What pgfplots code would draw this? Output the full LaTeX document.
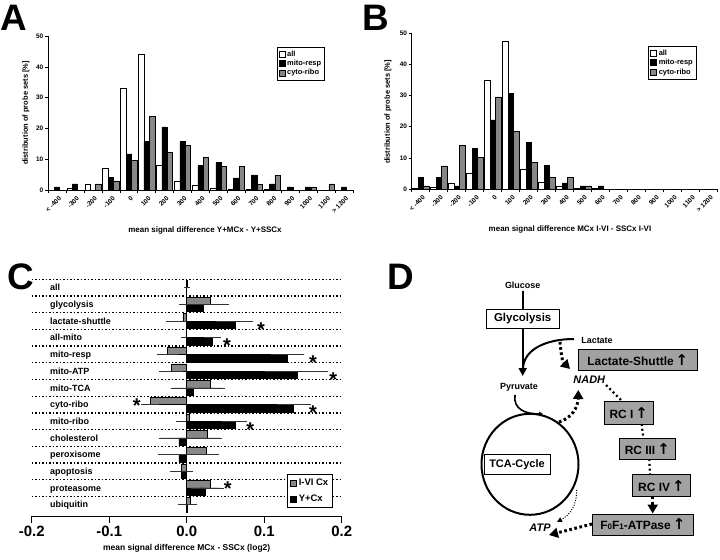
\documentclass[border=0pt]{standalone}
\usepackage{pgfplots}
\pgfplotsset{compat=1.18}
\usepackage{fontspec}
\setmainfont{Liberation Sans}
\newfontfamily\symfont{DejaVu Sans}
\usetikzlibrary{arrows.meta}
\definecolor{barg}{HTML}{878787}
\definecolor{boxg}{HTML}{A2A2A2}
\newcommand\fs[1]{\bfseries\fontsize{#1}{#1}\selectfont}
\newcommand\up{{\symfont\bfseries\fontsize{15}{15}\selectfont ↑}}
\begin{document}
\begin{tikzpicture}[x=1bp,y=1bp]
\useasboundingbox (0,0) rectangle (720,-560);
\pgfplotsset{
  histo/.style={
    scale only axis,
    ymin=0, ymax=50, ytick={0,10,...,50},
    xmin=-0.5, xmax=16.5,
    axis x line*=bottom, axis y line*=left,
    xtick={-0.5,0.5,...,16.5},
    x tick label as interval,
    xticklabels={< -400,-300,-200,-100,0,100,200,300,400,500,600,700,800,900,1000,1100,> 1200},
    tick align=outside, major tick length=3bp,
    tick style={black, line width=0.5bp},
    axis line style={line width=0.6bp},
    /pgf/number format/assume math mode=true,
    yticklabel style={font=\fs{6.5}, inner sep=1.5bp},
    xticklabel style={font=\fs{6.5}, rotate=45, anchor=north east, inner sep=1bp, yshift=-2bp},
    legend cell align=left,
    legend style={draw=black, line width=0.6bp, font=\fs{7.5}, inner sep=1.5bp, row sep=-1.5bp, anchor=north east},
    legend image code/.code={\draw[##1,draw=black,line width=0.5bp] (0bp,-3bp) rectangle (6bp,3bp);},
  },
  hb/.style={ybar, bar width=0.3, draw=black, line width=0.5bp},
}
% ---------------- Panel A
\node[anchor=base west, inner sep=0, font=\fs{37}] at (0,-30.5) {A};
\begin{axis}[histo, at={(48bp,-190bp)}, anchor=south west, width=305bp, height=154bp,
  legend style={at={(0.908,0.929)}}]
\addplot[hb, bar shift=-0.3, fill=white] coordinates {(0,0) (1,0.5) (2,2) (3,7) (4,33) (5,44) (6,8) (7,3) (8,1.4) (9,0.7) (10,0.3) (11,0.2) (12,0.1) (13,0) (14,0) (15,0) (16,0)};
\addlegendentry{all}
\addplot[hb, bar shift=0, fill=black] coordinates {(0,1) (1,2) (2,0) (3,4) (4,11.7) (5,15.7) (6,20.5) (7,15.7) (8,7.9) (9,8.9) (10,3.9) (11,4.9) (12,1.95) (13,1) (14,1) (15,0) (16,1)};
\addlegendentry{mito-resp}
\addplot[hb, bar shift=0.3, fill=barg] coordinates {(0,0) (1,0) (2,2) (3,3) (4,9.5) (5,24) (6,12.3) (7,14.4) (8,10.6) (9,7.7) (10,7.7) (11,1.8) (12,4.7) (13,0) (14,1) (15,2) (16,0)};
\addlegendentry{cyto-ribo}
\end{axis}
\node[rotate=90, font=\fs{7.5}] at (26,-113) {distribution of probe sets [\%]};
\node[font=\fs{8}] at (205,-230) {mean signal difference Y+MCx - Y+SSCx};
% ---------------- Panel B
\node[anchor=base west, inner sep=0, font=\fs{37}] at (362,-30.5) {B};
\begin{axis}[histo, at={(411.7bp,-189bp)}, anchor=south west, width=306bp, height=155.7bp,
  legend style={at={(0.931,0.918)}}]
\addplot[hb, bar shift=-0.3, fill=white] coordinates {(0,0.3) (1,0.5) (2,2) (3,5.2) (4,35) (5,47.3) (6,6.3) (7,2.2) (8,0.9) (9,0.2) (10,0.1) (11,0) (12,0) (13,0) (14,0) (15,0) (16,0)};
\addlegendentry{all}
\addplot[hb, bar shift=0, fill=black] coordinates {(0,3.7) (1,3.7) (2,1) (3,13) (4,22.2) (5,30.6) (6,14.9) (7,7.5) (8,2) (9,1) (10,1) (11,0) (12,0) (13,0) (14,0) (15,0) (16,0)};
\addlegendentry{mito-resp}
\addplot[hb, bar shift=0.3, fill=barg] coordinates {(0,1) (1,7.4) (2,13.9) (3,10.2) (4,29.6) (5,18.5) (6,8.5) (7,3.7) (8,3.7) (9,1) (10,0) (11,0) (12,0) (13,0) (14,0) (15,0) (16,0)};
\addlegendentry{cyto-ribo}
\end{axis}
\node[rotate=90, font=\fs{7.5}] at (388,-112) {distribution of probe sets [\%]};
\node[font=\fs{8}] at (570,-229) {mean signal difference MCx I-VI - SSCx I-VI};
% ---------------- Panel C
\node[anchor=base west, inner sep=0, font=\fs{37}] at (7,-289) {C};
\begin{axis}[at={(31.7bp,-516bp)}, anchor=south west, scale only axis, width=310bp, height=236.7bp,
  xmin=-0.2, xmax=0.2, ymin=-0.5, ymax=13.68, y dir=reverse,
  axis x line*=bottom, axis y line*=left, y axis line style={draw=none},
  xtick={-0.2,-0.1,0,0.1,0.2}, xticklabels={-0.2,-0.1,0.0,0.1,0.2},
  ytick={-0.5,0.5,...,12.5}, yticklabels={},
  ymajorgrids,
  major grid style={black, line width=1.3bp, dash pattern=on 1.3bp off 2.2bp},
  tick align=outside, major tick length=7bp,
  xtick style={black, line width=0.8bp}, ytick style={draw=none},
  axis line style={line width=0.8bp},
  xticklabel style={font=\fs{15}, inner sep=2bp, yshift=-1bp},
  clip=false,
  legend style={at={(0.972,0.034)}, anchor=south east, draw=black, line width=0.6bp, font=\fs{9.5}, inner sep=2.5bp, row sep=4bp, fill=white},
  legend cell align=left,
  legend image code/.code={\draw[#1,draw=black,line width=0.5bp] (0bp,-3.2bp) rectangle (6.4bp,3.2bp);},
]
\addplot[xbar, bar width=0.44, bar shift=-0.22, fill=barg, draw=black, line width=0.5bp,
  error bars/.cd, x dir=both, x explicit, error bar style={black!80, line width=0.6bp},
  error mark options={black!80, mark size=2.2bp, line width=0.6bp}] coordinates {
(0.001,0) +- (0.001,0)
(0.031,1) +- (0.021,0)
(-0.005,2) +- (0.019,0)
(-0.001,3) +- (0.003,0)
(-0.025,4) +- (0.011,0)
(-0.020,5) +- (0.013,0)
(0.031,6) +- (0.015,0)
(-0.047,7) +- (0.009,0)
(0.003,8) +- (0.014,0)
(0.026,9) +- (0.017,0)
(0.025,10) +- (0.014,0)
(-0.007,11) +- (0.008,0)
(0.031,12) +- (0.014,0)
(0.004,13) +- (0.004,0)
};
\addlegendentry{I-VI Cx}
\addplot[xbar, bar width=0.44, bar shift=0.22, fill=black, draw=black, line width=0.5bp,
  error bars/.cd, x dir=both, x explicit, error bar style={black!80, line width=0.6bp},
  error mark options={black!80, mark size=2.2bp, line width=0.6bp}] coordinates {
(0.000,0) +- (0.001,0)
(0.021,1) +- (0.028,0)
(0.062,2) +- (0.021,0)
(0.033,3) +- (0.008,0)
(0.130,4) +- (0.019,0)
(0.142,5) +- (0.038,0)
(0.008,6) +- (0.026,0)
(0.138,7) +- (0.019,0)
(0.062,8) +- (0.013,0)
(-0.010,9) +- (0.023,0)
(-0.010,10) +- (0.024,0)
(-0.007,11) +- (0.012,0)
(0.024,12) +- (0.015,0)
(0.001,13) +- (0.010,0)
};
\addlegendentry{Y+Cx}
\begin{scope}[every node/.style={anchor=west, font=\fs{9}, inner sep=0, text height=6.5bp, text depth=0bp}]
\node at (axis cs:-0.1764,0) {all};
\node at (axis cs:-0.1764,1) {glycolysis};
\node at (axis cs:-0.1764,2) {lactate-shuttle};
\node at (axis cs:-0.1764,3) {all-mito};
\node at (axis cs:-0.1764,4) {mito-resp};
\node at (axis cs:-0.1764,5) {mito-ATP};
\node at (axis cs:-0.1764,6) {mito-TCA};
\node at (axis cs:-0.1764,7) {cyto-ribo};
\node at (axis cs:-0.1764,8) {mito-ribo};
\node at (axis cs:-0.1764,9) {cholesterol};
\node at (axis cs:-0.1764,10) {peroxisome};
\node at (axis cs:-0.1764,11) {apoptosis};
\node at (axis cs:-0.1764,12) {proteasome};
\node at (axis cs:-0.1764,13) {ubiquitin};
\end{scope}
\begin{scope}[every node/.style={anchor=base, font=\fs{20}, inner sep=0, yshift=-11.5bp}]
\node at (axis cs:0.096,2.22) {*};
\node at (axis cs:0.052,3.22) {*};
\node at (axis cs:0.163,4.22) {*};
\node at (axis cs:0.189,5.22) {*};
\node at (axis cs:-0.0645,6.78) {*};
\node at (axis cs:0.163,7.22) {*};
\node at (axis cs:0.082,8.22) {*};
\node at (axis cs:0.053,11.78) {*};
\end{scope}
\end{axis}
\node[font=\fs{8.5}] at (186.7,-548) {mean signal difference MCx - SSCx (log2)};
% ---------------- Panel D
\node[anchor=base west, inner sep=0, font=\fs{37}] at (387,-289) {D};
\tikzset{
  gbox/.style={draw=black, line width=0.8bp, fill=boxg, inner sep=0, font=\fs{12}},
  dotA/.style={line width=3bp, dash pattern=on 2.6bp off 2.6bp},
  dotB/.style={line width=2.2bp, dash pattern=on 2bp off 2.8bp},
  bighead/.style={-{Triangle[length=9bp,width=10bp]}},
}
\node[font=\fs{9}] at (522.7,-285) {Glucose};
\draw[line width=2bp] (522.7,-290.5) -- (522.7,-309.3);
\node[draw=black, line width=0.8bp, fill=white, minimum width=73bp, minimum height=19bp, inner sep=0, font=\fs{11.5}] at (522.7,-318.8) {Glycolysis};
\draw[line width=2bp, -{Triangle[length=8bp,width=8bp]}] (522.7,-328.3) -- (522.7,-376);
\draw[line width=2bp] (574,-339) .. controls (545,-339) and (524,-350) .. (523,-368);
\node[font=\fs{9}] at (597,-340) {Lactate};
\node[font=\fs{9}] at (519,-387) {Pyruvate};
\node[font=\fs{11}\itshape] at (589.3,-380) {NADH};
\draw[line width=1.6bp, -{Triangle[length=4bp,width=4.5bp]}] (515,-395) .. controls (513,-409) and (525,-414) .. (543,-414);
\draw[line width=2bp] (530,-464.3) ellipse [x radius=48.5bp, y radius=50.5bp];
\node[draw=black, line width=0.8bp, fill=white, minimum width=66bp, minimum height=19.7bp, inner sep=0, font=\fs{11}] at (517,-464.2) {TCA-Cycle};
% dotted arrows
\draw[dotA, bighead] (560,-342) .. controls (561,-353) and (562,-361) .. (570,-369);
\draw[dotA, bighead] (559,-422) .. controls (572,-418) and (578,-407) .. (578.3,-390);
\draw[dotB] (606,-385) -- (622,-401);
\draw[dotB] (641.7,-424) -- (643.3,-438.3);
\draw[dotB] (649.3,-459) -- (650,-474.7);
\draw[dotA, bighead] (652.7,-496.7) -- (652.7,-513.5);
\draw[dotA, bighead] (592,-524) -- (549,-535);
\draw[line width=1bp, dash pattern=on 1bp off 1.5bp, -{Triangle[length=5bp,width=5bp]}] (576.7,-490) .. controls (577,-505) and (570,-515) .. (557,-522);
\node[font=\fs{11}\itshape] at (540,-528) {ATP};
% gray boxes
\node[gbox, minimum width=119bp, minimum height=21.7bp] at (637.8,-359.9) {Lactate-Shuttle\,\up};
\node[gbox, minimum width=49bp, minimum height=22.3bp] at (628.8,-412.9) {RC I\,\up};
\node[gbox, minimum width=56bp, minimum height=20.7bp] at (647.3,-448.7) {RC III\,\up};
\node[gbox, minimum width=57.3bp, minimum height=22bp] at (661.4,-485.7) {RC IV\,\up};
\node[gbox, minimum width=101bp, minimum height=21bp] at (642.8,-524.5) {F{\fs{8}0}F{\fs{8}1}-ATPase\,\up};
\end{tikzpicture}
\end{document}
